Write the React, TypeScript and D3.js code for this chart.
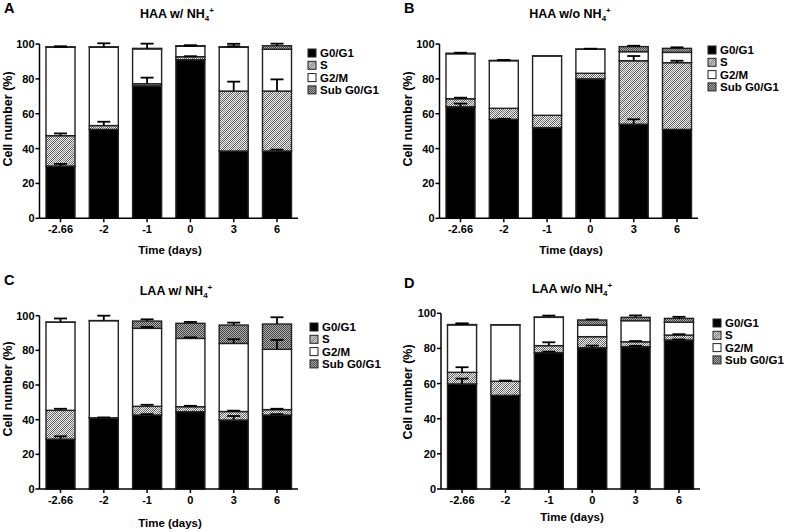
import * as d3 from "d3";

const categories = ["-2.66", "-2", "-1", "0", "3", "6"];
const phases = ["G0/G1", "S", "G2/M", "Sub G0/G1"];
const yTicks = [0, 20, 40, 60, 80, 100];

// A: HAA w/ NH4+
const aG0 = [30, 51, 76, 91, 38.6, 38.6];
const aS = [17.4, 2.2, 1.2, 1.7, 34.4, 34.4];
const aG2M = [50.7, 44.9, 20, 6, 25.1, 24];
const aSub = [0.3, 0.3, 0.3, 0.3, 0.3, 2];
const aG0Err = [1.2, 0, 0, 0, 0, 0.8];
const aSErr = [1.3, 2.2, 3.5, 0.3, 5.4, 6.7];
const aG2MErr = [0.3, 2.3, 3, 0.3, 2, 0];
const aSubErr = [0.3, 0, 0, 0.3, 0.3, 1.2];

// B: HAA w/o NH4+
const bG0 = [64, 56.8, 52, 80, 54, 51];
const bS = [4.6, 6.3, 7.1, 3.2, 36.4, 38.3];
const bG2M = [25.8, 27.3, 34, 13.8, 5.2, 5.9];
const bSub = [0.3, 0.2, 0.1, 0.1, 2.9, 2.3];
const bG0Err = [1.8, 0.3, 0, 0, 2.8, 0];
const bSErr = [0.6, 0, 0, 0, 2.7, 1.1];
const bG2MErr = [0.5, 0.3, 0, 0, 0, 0];
const bSubErr = [0.3, 0.2, 0, 0.2, 0.5, 0.6];

// C: LAA w/ NH4+
const cG0 = [28.8, 40.8, 42.7, 44.6, 39.8, 42.7];
const cS = [16.6, 0.3, 5, 2.9, 4.9, 3.1];
const cG2M = [50.8, 56, 45, 39.4, 39.3, 34.8];
const cSub = [0.1, 0.1, 4.2, 8.7, 10.6, 14.6];
const cG0Err = [1.6, 0.5, 0.5, 0, 2.3, 0.5];
const cSErr = [0.9, 0, 0.9, 0.5, 0.5, 0.5];
const cG2MErr = [2.2, 2.9, 0.8, 0.6, 2.4, 5.4];
const cSubErr = [0, 0, 1, 0.8, 1.4, 3.9];

// D: LAA w/o NH4+
const dG0 = [59.8, 53.3, 77.6, 80.4, 81, 84.8];
const dS = [6.6, 8, 4, 6.3, 2.8, 2.8];
const dG2M = [27, 32.1, 16.1, 6.6, 12, 7.3];
const dSub = [0.2, 0.1, 0.2, 2.9, 1.9, 2.2];
const dG0Err = [3, 0, 0.6, 1.2, 0.5, 0.3];
const dSErr = [2.9, 0.4, 1.9, 0, 0.4, 0.5];
const dG2MErr = [0.9, 0, 0, 0, 0, 0];
const dSubErr = [0.3, 0, 0.8, 0.3, 1.1, 0.9];

const fills: Record<string, string> = {
  "G0/G1": "#000",
  S: "url(#sPat)",
  "G2/M": "#fff",
  "Sub G0/G1": "url(#subPat)",
};

const font = "'Liberation Sans', Arial, sans-serif";

const panels = [
  {
    letter: "A", name: "HAA w/ NH", values: [aG0, aS, aG2M, aSub], errs: [aG0Err, aSErr, aG2MErr, aSubErr],
    left: 39.5, right: 298, y100: 44, y0: 218.3, title: [177, 18], letterPos: [4, 13],
    xLabel: [170, 254], yLabel: [12, 119], legend: [308, 53],
  },
  {
    letter: "B", name: "HAA w/o NH", values: [bG0, bS, bG2M, bSub], errs: [bG0Err, bSErr, bG2MErr, bSubErr],
    left: 439.5, right: 698, y100: 44, y0: 218.3, title: [570, 18], letterPos: [404, 13],
    xLabel: [571, 254], yLabel: [412, 119], legend: [708, 50],
  },
  {
    letter: "C", name: "LAA w/ NH", values: [cG0, cS, cG2M, cSub], errs: [cG0Err, cSErr, cG2MErr, cSubErr],
    left: 39.5, right: 298, y100: 315.7, y0: 489, title: [176, 295], letterPos: [4, 285],
    xLabel: [170, 527], yLabel: [12, 389], legend: [310, 327],
  },
  {
    letter: "D", name: "LAA w/o NH", values: [dG0, dS, dG2M, dSub], errs: [dG0Err, dSErr, dG2MErr, dSubErr],
    left: 441, right: 700, y100: 313.3, y0: 489, title: [572, 293], letterPos: [404, 288],
    xLabel: [572, 521], yLabel: [412, 392], legend: [713, 323],
  },
];

function Panel({ p }: { p: (typeof panels)[number] }) {
  const x = d3
    .scaleBand()
    .domain(categories)
    .range([p.left, p.right])
    .paddingInner(0.33)
    .paddingOuter(0.15);
  const y = d3.scaleLinear().domain([0, 100]).range([p.y0, p.y100]);

  const rows = categories.map((c, i) => {
    const r: any = { cat: c };
    phases.forEach((k, j) => (r[k] = p.values[j][i]));
    return r;
  });
  const series = d3.stack<any>().keys(phases)(rows);
  const bw = x.bandwidth();
  const cap = 13;

  return (
    <g fontFamily={font} fontWeight="bold">
      <text x={p.letterPos[0]} y={p.letterPos[1]} fontSize={14.5}>{p.letter}</text>
      <text x={p.title[0]} y={p.title[1]} fontSize={12.5} textAnchor="middle">
        {p.name}
        <tspan fontSize={8} dy={3}>4</tspan>
        <tspan fontSize={8} dy={-8}>+</tspan>
      </text>

      {series.map((s, j) =>
        s.map((d, i) => (
          <rect
            key={`${j}-${i}`}
            x={x(categories[i])}
            y={y(d[1])}
            width={bw}
            height={Math.max(0, y(d[0]) - y(d[1]))}
            fill={fills[phases[j]]}
            stroke="#222"
            strokeWidth={1.4}
          />
        ))
      )}
      {series.map((s, j) =>
        s.map((d, i) => {
          const e = p.errs[j][i];
          if (!e) return null;
          const cx = (x(categories[i]) as number) + bw / 2;
          const top = y(d[1] + e);
          return (
            <g key={`e${j}-${i}`} stroke="#000" strokeWidth={1.8}>
              <line x1={cx} x2={cx} y1={y(d[1])} y2={top} />
              <line x1={cx - cap / 2} x2={cx + cap / 2} y1={top} y2={top} />
            </g>
          );
        })
      )}

      {/* axes */}
      <line x1={p.left} x2={p.left} y1={p.y0} y2={p.y100} stroke="#000" strokeWidth={1.5} />
      <line x1={p.left} x2={p.right} y1={p.y0} y2={p.y0} stroke="#000" strokeWidth={1.5} />
      {yTicks.map((t) => (
        <g key={t}>
          <line x1={p.left - 4} x2={p.left} y1={y(t)} y2={y(t)} stroke="#000" strokeWidth={1.5} />
          <text x={p.left - 5} y={y(t)} dy="0.36em" fontSize={11} textAnchor="end">{t}</text>
        </g>
      ))}
      {categories.map((c) => {
        const cx = (x(c) as number) + bw / 2;
        return (
          <g key={c}>
            <line x1={cx} x2={cx} y1={p.y0} y2={p.y0 + 4} stroke="#000" strokeWidth={1.5} />
            <text x={cx} y={p.y0 + 15} fontSize={11} textAnchor="middle">{c}</text>
          </g>
        );
      })}
      <text x={p.xLabel[0]} y={p.xLabel[1]} fontSize={11.5} textAnchor="middle">Time (days)</text>
      <text
        transform={`translate(${p.yLabel[0]},${p.yLabel[1]}) rotate(-90)`}
        fontSize={12.5}
        textAnchor="middle"
      >
        Cell number (%)
      </text>

      {/* legend */}
      {phases.map((k, j) => (
        <g key={k} transform={`translate(${p.legend[0]},${p.legend[1] + j * 12.3})`}>
          <rect x={0} y={-4} width={8} height={8} fill={fills[k]} stroke="#222" strokeWidth={1} />
          <text x={12} y={0} dy="0.36em" fontSize={11.5}>{k}</text>
        </g>
      ))}
    </g>
  );
}

export default function App() {
  return (
    <svg
      width={787}
      height={531}
      style={{ position: "absolute", left: 0, top: 0, background: "#fff" }}
    >
      <defs>
        <pattern id="checker" width={2} height={2} patternUnits="userSpaceOnUse">
          <rect width={2} height={2} fill="#f2f2f2" />
          <rect x={0} y={0} width={1} height={1} fill="#555" />
          <rect x={1} y={1} width={1} height={1} fill="#555" />
        </pattern>
        <pattern id="sPat" width={8} height={8} patternUnits="userSpaceOnUse">
          <rect width={8} height={8} fill="url(#checker)" />
          <path d="M-2,10 L10,-2 M-2,2 L2,-2 M6,10 L10,6" stroke="#e6e6e6" strokeWidth={1.2} />
        </pattern>
        <pattern id="subPat" width={2} height={2} patternUnits="userSpaceOnUse">
          <rect width={2} height={2} fill="#b0b0b0" />
          <rect x={0} y={0} width={1} height={1} fill="#444" />
          <rect x={1} y={1} width={1} height={1} fill="#444" />
        </pattern>
      </defs>
      <rect width={787} height={531} fill="#fff" />
      {panels.map((p) => (
        <Panel key={p.letter} p={p} />
      ))}
    </svg>
  );
}
